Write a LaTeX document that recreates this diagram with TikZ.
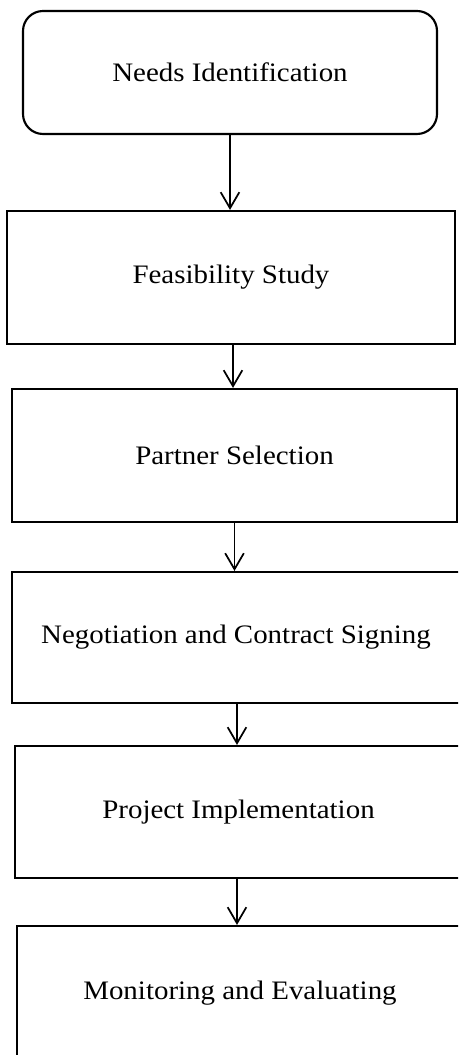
\documentclass[tikz,border=0pt]{standalone}
\usepackage{fontspec}
\setmainfont{Liberation Serif}[FakeStretch=1.085]
\usetikzlibrary{arrows.meta}
\tikzset{
  box/.style={draw=black, line width=1.6pt, fill=white, align=center, inner sep=0pt,
    font=\fontsize{20pt}{24pt}\selectfont},
  conn/.style={draw=black, line width=1.3pt, -{Straight Barb[length=12pt, width=14pt, line width=1.3pt]}}
}
\begin{document}
\begin{tikzpicture}[x=0.75pt, y=-0.75pt]
\useasboundingbox (0,0) rectangle (458,1055);
\clip (0,0) rectangle (458,1055);
\node[box, rounded corners=15pt, minimum width=310.5pt, minimum height=92.25pt] (n1) at (230,72.5) {Needs Identification};
\node[box, minimum width=336pt, minimum height=99.75pt] (n2) at (231,277.5) {Feasibility Study};
\node[box, minimum width=333.75pt, minimum height=99.75pt] (n3) at (234.5,455.5) {Partner Selection};
\node[box, minimum width=336pt, minimum height=98.25pt] (n4) at (236,637.5) {Negotiation and Contract Signing};
\node[box, minimum width=335.25pt, minimum height=99pt] (n5) at (238.5,812) {Project Implementation};
\node[box, minimum width=334.5pt, minimum height=100.5pt] (n6) at (240,993) {Monitoring and Evaluating};
\draw[conn] (n1.south) -- (n1.south |- n2.north);
\draw[conn] ([xshift=1.5pt]n2.south) -- ([xshift=1.5pt]n2.south |- n3.north);
\draw[conn] (n3.south) -- (n3.south |- n4.north);
\draw[conn] ([xshift=0.75pt]n4.south) -- ([xshift=0.75pt]n4.south |- n5.north);
\draw[conn] ([xshift=-1.125pt]n5.south) -- ([xshift=-1.125pt]n5.south |- n6.north);
\end{tikzpicture}
\end{document}
